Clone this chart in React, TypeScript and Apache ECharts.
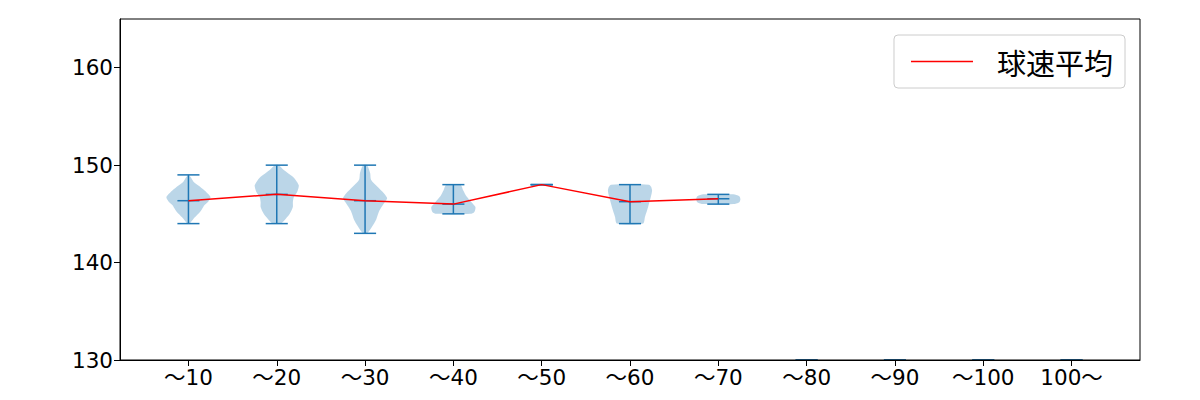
import React, { useEffect, useRef } from 'react';
import * as echarts from 'echarts';

const categories = ['～10', '～20', '～30', '～40', '～50', '～60', '～70', '～80', '～90', '～100', '100～'];
const meanSpeed = [146.35, 147.0, 146.35, 146.0, 148.0, 146.25, 146.55];
const minSpeed = [144, 144, 143, 145, 148, 144, 146, 130, 130, 130, 130];
const maxSpeed = [149, 150, 150, 148, 148, 148, 147, 130, 130, 130, 130];
const yTicks = [130, 140, 150, 160];

// violin outlines: speed levels and relative density (half-width, 1 = widest)
const v10Levels = [149.0, 148.8, 148.3, 147.9, 147.4, 147.0, 146.7, 146.3, 145.9, 145.4, 145.0, 144.5, 144.0];
const v10Density = [0, 0.09, 0.23, 0.45, 0.73, 0.91, 1, 0.91, 0.73, 0.59, 0.45, 0.23, 0.05];
const v20Levels = [150.0, 149.5, 148.8, 148.3, 147.9, 147.4, 147.0, 146.7, 146.2, 145.7, 145.0, 144.5, 144.0];
const v20Density = [0.09, 0.32, 0.73, 0.91, 1, 0.95, 0.86, 0.77, 0.73, 0.73, 0.59, 0.41, 0.18];
const v30Levels = [150.0, 149.2, 148.5, 147.8, 147.1, 146.6, 146.1, 145.3, 144.4, 143.7, 143.0];
const v30Density = [0.09, 0.23, 0.27, 0.55, 0.86, 1, 0.86, 0.64, 0.5, 0.32, 0.09];
const v40Levels = [148.0, 147.4, 146.8, 146.2, 145.7, 145.2, 145.0];
const v40Density = [0.32, 0.45, 0.59, 0.82, 1, 0.95, 0.77];
const v60Levels = [148.0, 147.8, 147.4, 146.8, 145.7, 144.7, 144.0];
const v60Density = [0.86, 0.95, 1, 0.95, 0.82, 0.68, 0.59];
const v70Levels = [147.0, 146.8, 146.5, 146.2, 146.0];
const v70Density = [0.68, 0.95, 1, 0.95, 0.68];

const violinLevels: number[][] = [v10Levels, v20Levels, v30Levels, v40Levels, [], v60Levels, v70Levels, [], [], [], []];
const violinDensity: number[][] = [v10Density, v20Density, v30Density, v40Density, [], v60Density, v70Density, [], [], [], []];

const FONT = '"DejaVu Sans", "Noto Sans CJK JP", sans-serif';
const CJK_FONT = '"Noto Sans CJK JP", "Noto Sans", sans-serif';
const BLUE = '#1f77b4';

export default function App() {
  const ref = useRef<HTMLDivElement>(null);
  useEffect(() => {
    document.body.style.margin = '0';
    if (!ref.current) return;
    const chart = echarts.init(ref.current, undefined, { renderer: 'svg' });
    const option: any = {
      animation: false,
      textStyle: { fontFamily: FONT },
      grid: {
        left: 120, right: 60, top: 19, bottom: 40,
        show: true, borderColor: '#000', borderWidth: 1, z: 3,
        outerBoundsMode: 'none',
      },
      legend: {
        show: true,
        right: 75, top: 35,
        padding: [11, 12, 11, 17],
        borderColor: '#cccccc', borderWidth: 1, borderRadius: 4,
        backgroundColor: 'rgba(255,255,255,0.8)',
        itemWidth: 62, itemHeight: 1.5,
        icon: 'rect',
        textStyle: { fontSize: 29, lineHeight: 31, color: '#000', fontFamily: CJK_FONT, padding: [0, 0, 0, 19] },
        data: ['球速平均'],
      },
      xAxis: {
        type: 'value', min: 0.225, max: 11.775, z: 3,
        axisLine: { show: true, lineStyle: { color: '#000', width: 1 } },
        axisTick: { show: true, length: 6, lineStyle: { color: '#000' }, customValues: categories.map((_, i) => i + 1) },
        axisLabel: {
          color: '#000', fontSize: 21.5, margin: 7, fontFamily: FONT,
          customValues: categories.map((_, i) => i + 1),
          formatter: (v: number) => categories[Math.round(v) - 1] ?? '',
        },
        splitLine: { show: false },
      },
      yAxis: {
        type: 'value', min: 130, max: 165, z: 3,
        axisLine: { show: true, lineStyle: { color: '#000', width: 1 } },
        axisTick: { show: true, length: 6, lineStyle: { color: '#000' }, customValues: yTicks },
        axisLabel: { color: '#000', fontSize: 21.5, margin: 7, fontFamily: FONT, customValues: yTicks },
        splitLine: { show: false },
      },
      series: [
        {
          type: 'custom',
          name: 'violin',
          z: 1,
          data: categories.map((_, i) => [i + 1, i, minSpeed[i], maxSpeed[i]]),
          encode: { x: 0, y: [2, 3] },
          renderItem: (params: any, api: any) => {
            const pos = api.value(0) as number;
            const i = api.value(1) as number;
            const halfW = api.size([0.25, 0])[0];
            const capW = api.size([0.125, 0])[0];
            const children: any[] = [];
            const lv = violinLevels[i];
            const dn = violinDensity[i];
            if (lv.length > 1) {
              const left: number[][] = [];
              const right: number[][] = [];
              for (let k = 0; k < lv.length; k++) {
                const c = api.coord([pos, lv[k]]);
                left.push([c[0] - halfW * dn[k], c[1]]);
                right.push([c[0] + halfW * dn[k], c[1]]);
              }
              children.push({
                type: 'polygon',
                shape: { points: left.concat(right.reverse()), smooth: 0.25 },
                style: { fill: BLUE, opacity: 0.3, stroke: 'none' },
              });
            }
            const pMin = api.coord([pos, minSpeed[i]]);
            const pMax = api.coord([pos, maxSpeed[i]]);
            const lineStyle = { stroke: BLUE, lineWidth: 1.5 };
            children.push({ type: 'line', shape: { x1: pMin[0], y1: pMin[1], x2: pMax[0], y2: pMax[1] }, style: lineStyle });
            children.push({ type: 'line', shape: { x1: pMin[0] - capW, y1: pMin[1], x2: pMin[0] + capW, y2: pMin[1] }, style: lineStyle });
            children.push({ type: 'line', shape: { x1: pMax[0] - capW, y1: pMax[1], x2: pMax[0] + capW, y2: pMax[1] }, style: lineStyle });
            if (i < meanSpeed.length) {
              const pm = api.coord([pos, meanSpeed[i]]);
              children.push({ type: 'line', shape: { x1: pm[0] - capW, y1: pm[1], x2: pm[0] + capW, y2: pm[1] }, style: lineStyle });
            }
            return { type: 'group', children };
          },
        },
        {
          type: 'line',
          name: '球速平均',
          z: 4,
          data: meanSpeed.map((v, i) => [i + 1, v]),
          showSymbol: false,
          symbol: 'none',
          itemStyle: { color: '#ff0000' },
          lineStyle: { color: '#ff0000', width: 1.5 },
        },
      ],
    };
    chart.setOption(option);
    return () => chart.dispose();
  }, []);
  return <div ref={ref} style={{ width: 1200, height: 400 }} />;
}
